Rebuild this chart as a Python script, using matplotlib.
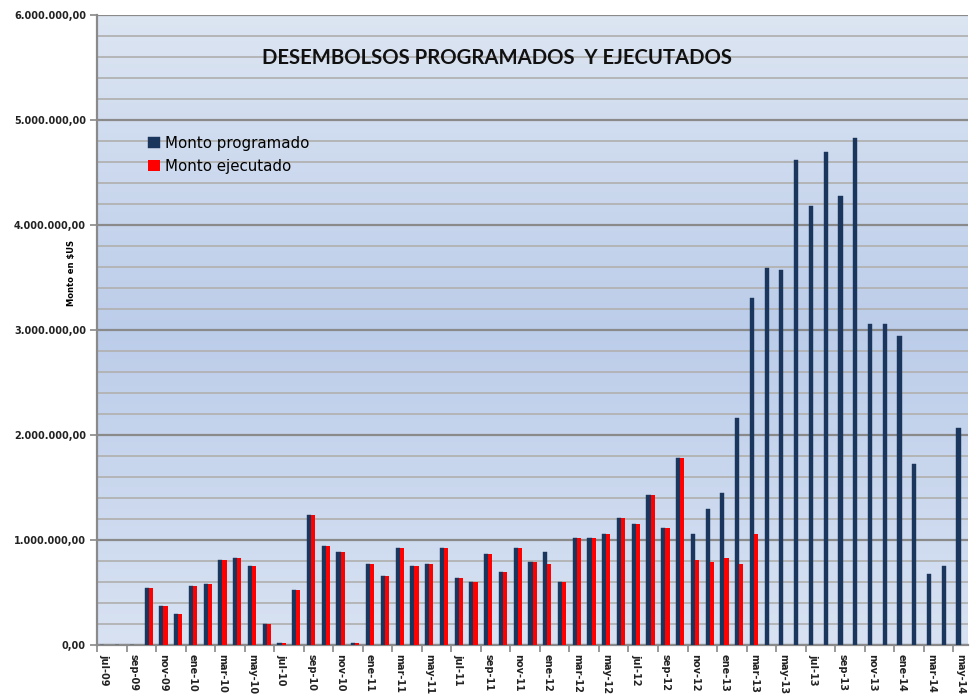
import numpy as np
import matplotlib
matplotlib.use('Agg')
from matplotlib import pyplot as plt
from matplotlib.colors import LinearSegmentedColormap
from matplotlib.ticker import FuncFormatter, MultipleLocator

# months jul-09 .. may-14
mes = ['ene', 'feb', 'mar', 'abr', 'may', 'jun', 'jul', 'ago', 'sep', 'oct', 'nov', 'dic']
meses = []
for k in range(59):
    m = (6 + k) % 12
    a = 9 + (6 + k) // 12
    meses.append('%s-%02d' % (mes[m], a))

programado = [0, 0, 0, 550000, 375000, 298000, 565000, 587000, 815000, 834000,
              758000, 203000, 25000, 530000, 1237000, 945000, 891000, 25000, 774000, 660000,
              926000, 755000, 774000, 926000, 640000, 602000, 869000, 697000, 926000, 793000,
              888000, 602000, 1021000, 1021000, 1063000, 1211000, 1156000, 1436000, 1116000, 1786000,
              1062000, 1302000, 1453000, 2160000, 3305000, 3590000, 3571000, 4621000, 4184000, 4697000,
              4275000, 4830000, 3057000, 3057000, 2943000, 1725000, 678000, 755000, 2068000]

ejecutado = [0, 0, 0, 550000, 375000, 298000, 565000, 587000, 815000, 834000,
             758000, 203000, 25000, 530000, 1237000, 945000, 891000, 25000, 774000, 660000,
             926000, 755000, 774000, 926000, 640000, 602000, 869000, 697000, 926000, 793000,
             774000, 602000, 1021000, 1021000, 1063000, 1211000, 1156000, 1436000, 1116000, 1786000,
             812000, 793000, 828000, 774000, 1059000, 0, 0, 0, 0, 0,
             0, 0, 0, 0, 0, 0, 0, 0, 0]

fig = plt.figure(figsize=(9.76, 6.96), dpi=100)
ax = fig.add_axes([0.0994, 0.0726, 0.8924, 0.906])

# background gradient of the plot area
cmap = LinearSegmentedColormap.from_list('fondo', ['#d8e2f2', '#bccdea', '#dce5f2'])
grad = np.linspace(0, 1, 256).reshape(-1, 1)
ax.imshow(grad, cmap=cmap, aspect='auto', extent=[-0.5, 58.5, 0, 6e6], zorder=0, origin='lower')

x = np.arange(len(meses))
w = 0.28
ax.bar(x - w / 2, programado, w, color='#1b365d', edgecolor='#1b365d', linewidth=0.3,
       label='Monto programado', zorder=3)
ax.bar(x + w / 2, ejecutado, w, color='#ff0000', linewidth=0, label='Monto ejecutado', zorder=3)

ax.set_xlim(-0.5, 58.5)
ax.set_ylim(0, 6e6)

# grid
ax.yaxis.set_major_locator(MultipleLocator(1e6))
ax.yaxis.set_minor_locator(MultipleLocator(2e5))
ax.grid(axis='y', which='minor', color='#b2b2b2', linewidth=1.3, zorder=1)
ax.grid(axis='y', which='major', color='#8a8a8a', linewidth=1.6, zorder=1)
ax.set_axisbelow(True)


def fmt(v, pos):
    s = '{:,.2f}'.format(v)
    return s.replace(',', 'X').replace('.', ',').replace('X', '.')


ax.yaxis.set_major_formatter(FuncFormatter(fmt))
ax.tick_params(axis='y', which='major', labelsize=7, length=5, color='#888888', width=1.2, pad=3)
ax.tick_params(axis='y', which='minor', length=0)
for t in ax.get_yticklabels():
    t.set_fontweight('bold')
    t.set_color('#222222')

# x axis: labels every other month, ticks at boundaries
ax.set_xticks(x[::2])
ax.set_xticklabels(meses[::2], rotation=-90, fontsize=7, fontweight='bold', color='#222222')
ax.set_xticks(np.arange(-0.5, 59, 2), minor=True)
ax.tick_params(axis='x', which='major', length=0, pad=6)
ax.tick_params(axis='x', which='minor', length=5, color='#888888', width=1.2)

for s in ['top', 'right']:
    ax.spines[s].set_visible(False)
for s in ['left', 'bottom']:
    ax.spines[s].set_color('#8a8a8a')
    ax.spines[s].set_linewidth(1.6)

ax.set_ylabel('Monto en $US', fontsize=6, fontweight='bold')
ax.yaxis.set_label_coords(-0.024, 0.59)

fig.text(0.509, 0.917, 'DESEMBOLSOS PROGRAMADOS  Y EJECUTADOS', ha='center', va='center',
         fontsize=14.6, fontweight='bold', family='Lato', color='#111111')

leg = ax.legend(loc='upper left', bbox_to_anchor=(0.043, 0.83), frameon=False, fontsize=10.8,
                handlelength=0.8, handleheight=0.8, handletextpad=0.35, labelspacing=0.55)

plt.savefig('out.png', dpi=100)
